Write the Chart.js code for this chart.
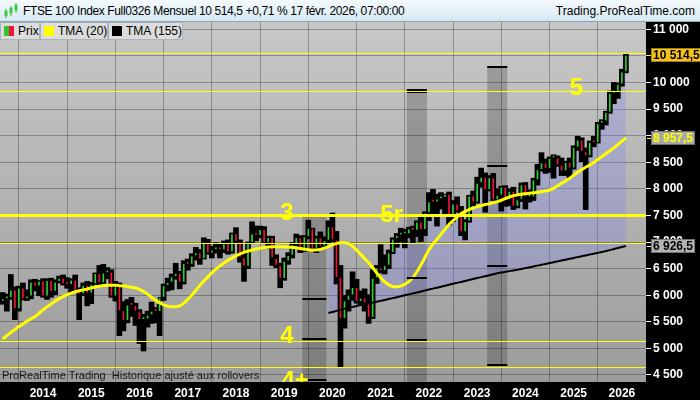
<!DOCTYPE html>
<html>
<head>
<meta charset="utf-8">
<script src="https://cdn.jsdelivr.net/npm/chart.js@4.4.1/dist/chart.umd.min.js"></script>
<style>
  body { margin: 0; background: #000; }
  #wrap { position: relative; width: 700px; height: 400px; overflow: hidden; font-family: "Liberation Sans", Arial, sans-serif; }
  #c { position: absolute; left: 0; top: 0; }
  #title { position: absolute; left: 0; top: 0; width: 700px; height: 21px; background: linear-gradient(#f4fafd, #d6e9f2); border-bottom: 1px solid #8ea4b0; font-size: 12px; line-height: 22px; color: #000; white-space: nowrap; }
  #title .l { position: absolute; left: 23px; top: 0; letter-spacing: -0.38px; }
  #title .r { position: absolute; right: 5px; top: 0; }
  #title svg { position: absolute; left: 4px; top: 3px; }
  .lg { position: absolute; top: 22px; height: 16px; background: #dcdcdc; border: 1px solid #a9b4ba; font-size: 12px; line-height: 16px; color: #000; white-space: nowrap; }
  .lg i { position: absolute; top: 3px; width: 10px; height: 10px; }
  .lg span { position: absolute; top: 0; }
</style>
</head>
<body>
<div id="wrap">
  <canvas id="c" width="700" height="400"></canvas>
  <div id="title">
    <svg width="14" height="16" viewBox="0 0 14 16">
      <rect x="1.5" y="6" width="1" height="9" fill="#2a2"/><rect x="0.5" y="8" width="3" height="5" fill="#3c3"/>
      <rect x="6.5" y="3" width="1" height="10" fill="#2a2"/><rect x="5.5" y="5" width="3" height="5" fill="#3c3"/>
      <rect x="11.5" y="0" width="1" height="10" fill="#2a2"/><rect x="10.5" y="2" width="3" height="5" fill="#3c3"/>
    </svg>
    <span class="l">FTSE 100 Index Full0326 Mensuel 10 514,5 +0,71 % 17 févr. 2026, 07:00:00</span>
    <span class="r">Trading.ProRealTime.com</span>
  </div>
  <div class="lg" style="left:0;width:38px;"><i style="left:3px;width:5px;background:#2fc52f;"></i><i style="left:8px;width:5px;background:#f0143c;"></i><span style="left:17px;">Prix</span></div>
  <div class="lg" style="left:40px;width:66px;"><i style="left:3px;background:#ffff00;"></i><span style="left:17px;">TMA (20)</span></div>
  <div class="lg" style="left:108px;width:73px;"><i style="left:3px;background:#000;"></i><span style="left:17px;">TMA (155)</span></div>
</div>
<script>
// monthly candles, Mar 2013 .. Feb 2026
const months = [
  '2013-03','2013-04','2013-05','2013-06','2013-07','2013-08','2013-09','2013-10','2013-11','2013-12',
  '2014-01','2014-02','2014-03','2014-04','2014-05','2014-06','2014-07','2014-08','2014-09','2014-10','2014-11','2014-12',
  '2015-01','2015-02','2015-03','2015-04','2015-05','2015-06','2015-07','2015-08','2015-09','2015-10','2015-11','2015-12',
  '2016-01','2016-02','2016-03','2016-04','2016-05','2016-06','2016-07','2016-08','2016-09','2016-10','2016-11','2016-12',
  '2017-01','2017-02','2017-03','2017-04','2017-05','2017-06','2017-07','2017-08','2017-09','2017-10','2017-11','2017-12',
  '2018-01','2018-02','2018-03','2018-04','2018-05','2018-06','2018-07','2018-08','2018-09','2018-10','2018-11','2018-12',
  '2019-01','2019-02','2019-03','2019-04','2019-05','2019-06','2019-07','2019-08','2019-09','2019-10','2019-11','2019-12',
  '2020-01','2020-02','2020-03','2020-04','2020-05','2020-06','2020-07','2020-08','2020-09','2020-10','2020-11','2020-12',
  '2021-01','2021-02','2021-03','2021-04','2021-05','2021-06','2021-07','2021-08','2021-09','2021-10','2021-11','2021-12',
  '2022-01','2022-02','2022-03','2022-04','2022-05','2022-06','2022-07','2022-08','2022-09','2022-10','2022-11','2022-12',
  '2023-01','2023-02','2023-03','2023-04','2023-05','2023-06','2023-07','2023-08','2023-09','2023-10','2023-11','2023-12',
  '2024-01','2024-02','2024-03','2024-04','2024-05','2024-06','2024-07','2024-08','2024-09','2024-10','2024-11','2024-12',
  '2025-01','2025-02','2025-03','2025-04','2025-05','2025-06','2025-07','2025-08','2025-09','2025-10','2025-11','2025-12',
  '2026-01','2026-02'
];

const open = [
  5880,5930,5950,6100,5740,6140,5930,5980,6250,6170,
  6270,5980,6280,6070,6250,6320,6210,6200,6290,6090,6020,6190,
  6040,6210,6410,6230,6420,6440,5980,6160,5710,5520,5820,5810,
  5700,5540,5550,5630,5700,5690,5960,6180,6240,6350,6410,6240,
  6600,6580,6740,6800,6680,7000,6790,6850,6910,6850,6970,6810,
  7160,7010,6710,6540,6990,7160,7120,7240,6990,7090,6700,6560,
  6310,6640,6750,6950,7090,6830,7100,7260,6880,7080,6920,7030,
  7290,7040,6330,5560,5900,6000,6150,5880,5950,5850,5580,6320,
  6520,6460,6560,6800,7060,7130,7150,7150,7250,7220,7380,7230,
  7550,7760,7750,7810,7840,7900,7470,7720,7580,7190,7390,7870,
  7750,8110,8220,7980,8210,7790,7880,8040,7790,7960,7670,7800,
  8080,7850,7850,8170,8360,8490,8380,8580,8590,8450,8330,8500,
  8390,8780,8920,8700,8620,8880,8870,9230,9270,9440,9800,9820,
  9970,10200
];
const high = [
  6050,6020,6390,6160,6170,6230,6100,6290,6300,6280,
  6310,6310,6320,6290,6360,6380,6330,6310,6380,6140,6230,6260,
  6240,6420,6560,6580,6520,6480,6260,6230,5880,5920,5960,5850,
  5730,5640,5700,5870,5770,5830,6210,6320,6400,6600,6450,6650,
  6680,6780,6900,6860,7080,7050,6920,6990,6960,7020,7040,7170,
  7270,7040,6820,7000,7380,7300,7300,7290,7110,7110,6760,6600,
  6700,6800,6990,7150,7120,7120,7410,7260,7110,7190,7100,7400,
  7546,7200,6560,6000,6100,6440,6300,6080,6120,6010,6480,6560,
  6950,6760,6850,7080,7160,7260,7240,7280,7300,7400,7480,7570,
  7930,7990,7900,7930,7900,7940,7780,7850,7670,7420,7880,7960,
  8220,8390,8300,8250,8290,8000,8050,8060,8000,8030,7860,8110,
  8120,7980,8200,8460,8680,8560,8600,8640,8620,8580,8520,8580,
  8810,8990,8960,8770,8900,8990,9250,9300,9460,9840,10000,9990,
  10250,10540
];
const low = [
  5830,5700,5920,5540,5700,5910,5900,5930,6080,5990,
  5960,5920,5960,6010,6230,6190,6130,6030,6070,5540,5990,5800,
  5840,6200,6170,6220,6310,5960,5890,5240,5330,5480,5600,5430,
  5090,4950,5400,5470,5480,5240,5900,6080,6100,6300,6120,6210,
  6470,6540,6660,6580,6680,6770,6700,6790,6700,6800,6770,6790,
  6990,6620,6260,6500,6980,7020,7080,6970,6880,6560,6520,6140,
  6280,6580,6700,6930,6800,6820,7060,6850,6800,6880,6900,6980,
  7010,6210,4650,5380,5700,5900,5850,5820,5700,5470,5560,6220,
  6420,6400,6500,6780,6900,7000,6890,7080,6980,7100,7010,7120,
  7400,7500,7300,7620,7480,7320,7380,7560,7120,7040,7370,7680,
  7730,8030,7560,7960,7780,7740,7580,7670,7680,7610,7640,7760,
  7620,7750,7780,8070,8330,8290,8310,8200,8420,8250,8250,8210,
  8370,8720,8510,7610,8600,8790,8860,9120,9200,9420,9600,9700,
  9930,10180
];
const close = [
  5930,5950,6100,5740,6140,5930,5980,6250,6170,6270,
  5980,6280,6070,6250,6320,6210,6200,6290,6090,6020,6190,6040,
  6210,6410,6230,6420,6440,5980,6160,5710,5520,5820,5810,5700,
  5540,5550,5630,5700,5690,5960,6180,6240,6350,6410,6240,6600,
  6580,6740,6800,6680,7000,6790,6850,6910,6850,6970,6810,7160,
  7010,6710,6540,6990,7160,7120,7240,6990,7090,6700,6560,6310,
  6640,6750,6950,7090,6830,7100,7260,6880,7080,6920,7030,7290,
  7040,6330,5560,5900,6000,6150,5880,5950,5850,5580,6320,6520,
  6460,6560,6800,7060,7130,7150,7150,7250,7220,7380,7230,7550,
  7760,7750,7810,7840,7900,7470,7720,7580,7190,7390,7870,7750,
  8110,8220,7980,8210,7790,7880,8040,7790,7960,7670,7800,8080,
  7850,7850,8170,8360,8490,8380,8580,8590,8450,8330,8500,8390,
  8780,8920,8700,8620,8880,8870,9230,9270,9440,9800,9820,9970,
  10200,10514.5
];

// TMA (20), one value per month above
const tma20 = [
  5180,5240,5300,5355,5410,5460,5510,5555,5600,5660,
  5723,5780,5835,5885,5935,5975,6010,6040,6065,6085,6100,6118,
  6135,6155,6170,6180,6186,6188,6185,6180,6174,6165,6150,6135,
  6110,6070,6020,5960,5905,5860,5820,5795,5782,5785,5800,5850,
  5920,6000,6090,6180,6265,6345,6420,6490,6550,6605,6655,6700,
  6740,6775,6805,6830,6850,6868,6883,6895,6905,6911,6913,6912,
  6908,6904,6900,6890,6878,6866,6855,6848,6850,6862,6885,6912,
  6945,6970,6985,6988,6970,6920,6850,6770,6690,6610,6520,6420,
  6330,6250,6195,6165,6158,6170,6205,6255,6330,6440,6570,6710,
  6850,6960,7050,7145,7240,7330,7400,7470,7530,7575,7610,7640,
  7665,7685,7705,7720,7740,7760,7785,7815,7850,7870,7885,7898,
  7908,7917,7925,7935,7945,7960,7979,8010,8055,8104,8150,8200,
  8255,8310,8360,8405,8449,8495,8550,8605,8660,8715,8770,8830,
  8895,8957.5
];

// TMA (155), starts Dec 2019
const tma155Start = '2019-12';
const tma155 = [
  5665,5685,5705,5725,5745,5762,5780,5797,5814,5830,5845,5860,5876,
  5893,5910,5927,5945,5962,5980,5998,6016,6034,6052,6070,6088,
  6106,6124,6142,6160,6178,6196,6214,6232,6250,6268,6286,6304,
  6322,6340,6358,6376,6394,6412,6426,6440,6453,6466,6479,6494,
  6509,6524,6540,6556,6572,6588,6604,6620,6636,6652,6668,6684,
  6700,6716,6732,6748,6764,6780,6796,6812,6830,6848,6868,6888,
  6907,6926.5
];

const yTicks = [4500,5000,5500,6000,6500,7000,7500,8000,8500,9000,9500,10000,10500,11000];
const yearTicks = [0,12,24,36,48,60,72,84,96,108,120,132,144];
const yearLabels = ['2014','2015','2016','2017','2018','2019','2020','2021','2022','2023','2024','2025','2026'];

// drawn levels and shaded zones
const thickLevel = 7500;
const thinLevels = [10549, 9840, 6977, 5140, 4657];
const zoneFrom = ['2019-06','2021-08','2023-04'];
const zoneTo = ['2019-11','2021-12','2023-08'];
const zoneTop = [7500, 9860, 10300];
const zoneBottom = [4368, 4368, 4690];
const zoneMarks = [[5920, 5170, 4410], [9860, 9815, 7500, 6320, 5160], [10300, 8430, 7500, 6550, 4690]];
const waveText = ['3', '5r', '4', '5', '4+'];
const waveMonth = ['2019-01', '2021-03', '2019-01', '2025-01', '2019-03'];
const waveValue = [7415, 7377, 5104, 9766, 4250];

const FONT = '"Liberation Sans", Arial, sans-serif';

function monthIndex(s) {
  const p = s.split('-');
  return (Number(p[0]) - 2014) * 12 + Number(p[1]) - 1;
}
function fmt(v) {
  return String(v).replace('.', ',').replace(/\B(?=(\d{3})+(?!\d))/g, ' ');
}

const xs = months.map(monthIndex);
const startIdx = months.indexOf(tma155Start);

const decor = {
  id: 'decor',
  beforeDraw(chart) {
    const { ctx, chartArea: a } = chart;
    ctx.save();
    ctx.fillStyle = '#000';
    ctx.fillRect(0, 0, chart.width, chart.height);
    const g = ctx.createLinearGradient(0, a.top, 0, a.bottom);
    g.addColorStop(0, '#c8c8c8');
    g.addColorStop(1, '#9c9c9c');
    ctx.fillStyle = g;
    ctx.fillRect(a.left, a.top, a.right - a.left, a.bottom - a.top);
    ctx.restore();
  },
  beforeDatasetsDraw(chart) {
    const { ctx, chartArea: a, scales: { x, y } } = chart;
    ctx.save();
    ctx.beginPath();
    ctx.rect(a.left, a.top, a.right - a.left, a.bottom - a.top);
    ctx.clip();
    ctx.fillStyle = 'rgba(0,0,0,0.2)';
    zoneFrom.forEach((f, i) => {
      const x0 = x.getPixelForValue(monthIndex(f) - 0.5);
      const x1 = x.getPixelForValue(monthIndex(zoneTo[i]) + 0.5);
      const y0 = y.getPixelForValue(zoneTop[i]);
      const y1 = y.getPixelForValue(zoneBottom[i]);
      ctx.fillRect(x0, y0, x1 - x0, y1 - y0);
    });
    ctx.restore();
  },
  afterDatasetsDraw(chart) {
    const { ctx, chartArea: a, scales: { x, y } } = chart;
    ctx.save();
    ctx.beginPath();
    ctx.rect(a.left, a.top, a.right - a.left, a.bottom - a.top);
    ctx.clip();
    // zone marks
    ctx.fillStyle = '#000';
    zoneFrom.forEach((f, i) => {
      const x0 = x.getPixelForValue(monthIndex(f) - 0.5);
      const x1 = x.getPixelForValue(monthIndex(zoneTo[i]) + 0.5);
      zoneMarks[i].forEach(v => {
        ctx.fillRect(x0, Math.round(y.getPixelForValue(v)) - 1, x1 - x0, 2);
      });
    });
    // yellow levels
    ctx.fillStyle = '#ffff00';
    thinLevels.forEach(v => {
      ctx.fillRect(a.left, Math.round(y.getPixelForValue(v)), a.right - a.left, 1);
    });
    ctx.fillRect(a.left, Math.round(y.getPixelForValue(thickLevel)) - 1, a.right - a.left, 3);
    // wave labels
    ctx.font = 'bold 24px ' + FONT;
    ctx.textAlign = 'center';
    ctx.textBaseline = 'alphabetic';
    waveText.forEach((t, i) => {
      ctx.fillText(t, x.getPixelForValue(monthIndex(waveMonth[i]) + 0.7), y.getPixelForValue(waveValue[i]));
    });
    // footnote
    ctx.font = '11px ' + FONT;
    ctx.fillStyle = '#1a1a1a';
    ctx.textAlign = 'left';
    ctx.textBaseline = 'middle';
    ctx.fillText('ProRealTime Trading  Historique ajusté aux rollovers', a.left + 2, a.bottom - 6);
    ctx.restore();
  },
  afterDraw(chart) {
    const { ctx, chartArea: a, scales: { y } } = chart;
    const tags = [
      { v: close[close.length - 1], bg: '#f5c21b', fg: '#000', tick: '#ffff00' },
      { v: tma20[tma20.length - 1], bg: '#a8a8a8', fg: '#ffff00', tick: '#ffff00' },
      { v: tma155[tma155.length - 1], bg: '#b2b2b2', fg: '#000', tick: '#fff' }
    ];
    ctx.save();
    ctx.font = 'bold 12px ' + FONT;
    ctx.textBaseline = 'middle';
    ctx.textAlign = 'left';
    tags.forEach(t => {
      const py = Math.round(y.getPixelForValue(t.v));
      const txt = fmt(t.v);
      const w = ctx.measureText(txt).width + 4;
      ctx.fillStyle = t.tick;
      ctx.fillRect(a.right + 1, py, 4, 1);
      ctx.fillStyle = t.bg;
      ctx.fillRect(a.right + 5, py - 7, w, 14);
      ctx.strokeStyle = 'rgba(0,0,0,0.35)';
      ctx.strokeRect(a.right + 5.5, py - 6.5, w - 1, 13);
      ctx.fillStyle = t.fg;
      ctx.fillText(txt, a.right + 7, py + 1);
    });
    ctx.restore();
  }
};

new Chart(document.getElementById('c'), {
  type: 'bar',
  data: {
    datasets: [
      {
        type: 'line', label: 'TMA (155)',
        data: tma155.map((v, i) => ({ x: xs[startIdx + i], y: v })),
        borderColor: '#000', borderWidth: 2, pointRadius: 0, tension: 0.3, order: 1
      },
      {
        type: 'line', label: 'zone',
        data: tma155.map((v, i) => ({ x: xs[startIdx + i], y: close[startIdx + i] })),
        borderWidth: 0, borderColor: 'rgba(0,0,0,0)', pointRadius: 0,
        fill: { target: 0, above: 'rgba(128,128,235,0.3)', below: 'rgba(0,0,0,0)' },
        order: 6
      },
      {
        label: 'wick',
        data: xs.map((m, i) => ({ x: m, y: [low[i], high[i]] })),
        backgroundColor: '#000', barThickness: 5, grouped: false, order: 4
      },
      {
        label: 'Prix',
        data: xs.map((m, i) => ({ x: m, y: [open[i], close[i]] })),
        backgroundColor: close.map((c, i) => c >= open[i] ? '#2fd12f' : '#f0143c'),
        borderColor: '#000', borderWidth: 1, borderSkipped: false,
        barThickness: 3, minBarLength: 3, grouped: false, order: 3
      },
      {
        type: 'line', label: 'TMA (20)',
        data: tma20.map((v, i) => ({ x: xs[i], y: v })),
        borderColor: '#ffff00', borderWidth: 3, pointRadius: 0, tension: 0.4, order: 0
      }
    ]
  },
  options: {
    responsive: false,
    animation: false,
    devicePixelRatio: 1,
    events: [],
    layout: { padding: { top: 22, left: 0, right: 0, bottom: 0 } },
    plugins: { legend: { display: false }, tooltip: { enabled: false } },
    scales: {
      x: {
        type: 'linear', min: -10.7, max: 150, offset: false,
        afterBuildTicks: s => { s.ticks = yearTicks.map(v => ({ value: v })); },
        afterFit: s => { s.height = 18; },
        grid: { color: 'rgba(0,0,0,0.28)', drawTicks: false },
        border: { display: false },
        ticks: {
          color: '#fff', font: { family: FONT, size: 12, weight: 'bold' },
          padding: 4, maxRotation: 0, autoSkip: false,
          callback: (v, i) => yearLabels[i]
        }
      },
      y: {
        type: 'linear', position: 'right', min: 4368, max: 11137,
        afterBuildTicks: s => { s.ticks = yTicks.map(v => ({ value: v })); },
        afterFit: s => { s.width = 54; },
        grid: { color: 'rgba(0,0,0,0.28)', tickColor: '#fff', tickLength: 5 },
        border: { display: false },
        ticks: {
          color: '#fff', font: { family: FONT, size: 12, weight: 'bold' },
          padding: 2, callback: v => fmt(v)
        }
      }
    }
  },
  plugins: [decor]
});
</script>
</body>
</html>
